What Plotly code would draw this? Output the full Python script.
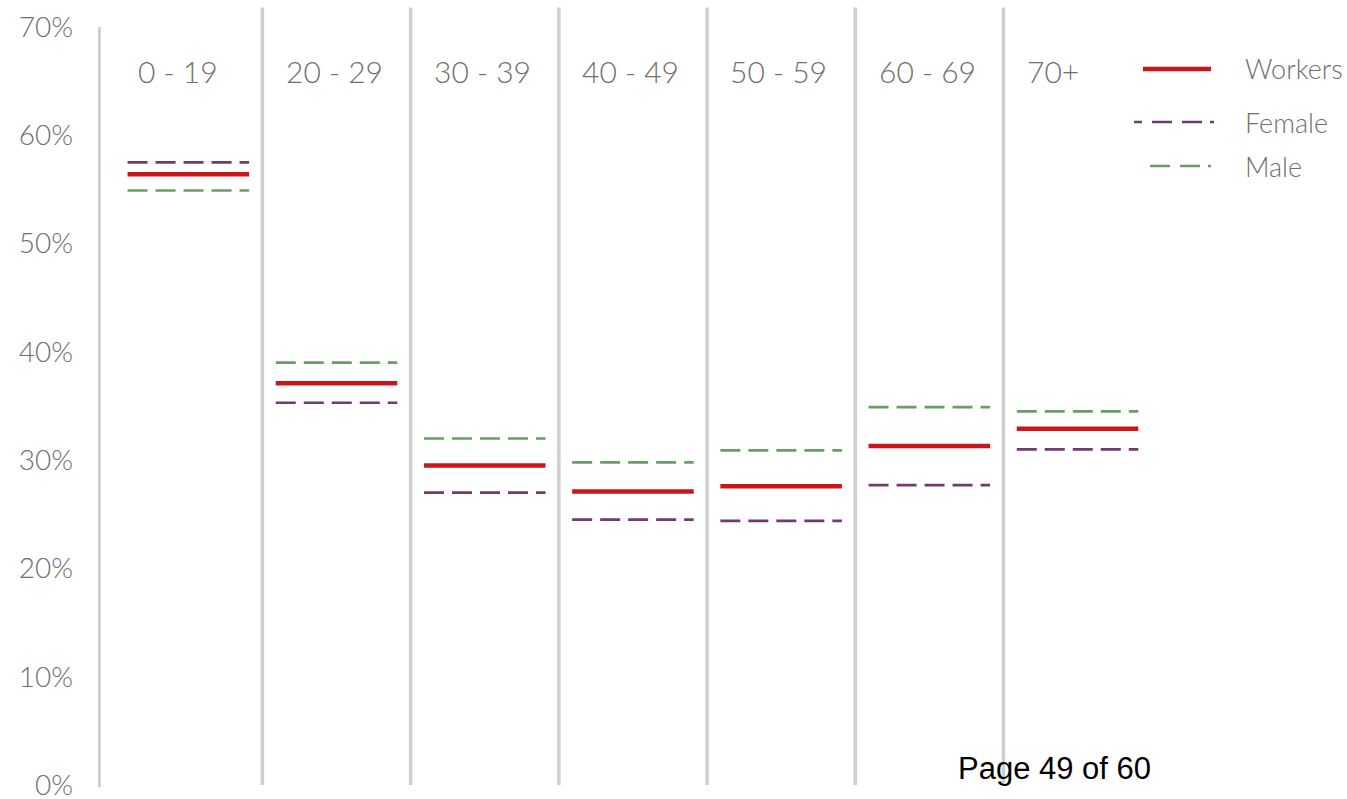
import plotly.graph_objects as go

# Share of each age group, in percent
AGE_GROUPS = ["0 - 19", "20 - 29", "30 - 39", "40 - 49", "50 - 59", "60 - 69", "70+"]
WORKERS = [56.4, 37.1, 29.5, 27.1, 27.6, 31.3, 32.9]
FEMALE = [57.5, 35.3, 27.0, 24.5, 24.4, 27.7, 31.0]
MALE = [54.9, 39.0, 32.0, 29.8, 30.9, 34.9, 34.5]
Y_TICKS = [0, 10, 20, 30, 40, 50, 60, 70]

TEXT_GREY = "#6f6f6f"
RED = "#cc1518"
PURPLE = "#6e3c70"
GREEN = "#6b9e66"
RULE = "#cfcfcf"
FONT = "Lato, 'Open Sans', sans-serif"

HALF = 0.41  # half width of each horizontal level marker, in category units


def segments(values):
    xs, ys = [], []
    for i, v in enumerate(values):
        xs += [i - HALF, i + HALF, None]
        ys += [v, v, None]
    return xs, ys


fig = go.Figure()

for name, vals, color, width, dash in [
    ("Male", MALE, GREEN, 2.7, "20px,8px"),
    ("Female", FEMALE, PURPLE, 2.7, "20px,8px"),
    ("Workers", WORKERS, RED, 4.5, "solid"),
]:
    xs, ys = segments(vals)
    fig.add_trace(go.Scatter(
        x=xs, y=ys, mode="lines", name=name, showlegend=False,
        line=dict(color=color, width=width, dash=dash),
        hoverinfo="skip",
    ))

shapes = []
# vertical rules between age groups
for i in range(len(AGE_GROUPS) - 1):
    shapes.append(dict(type="line", xref="x", yref="y", x0=i + 0.5, x1=i + 0.5,
                       y0=0.0, y1=71.8, line=dict(color=RULE, width=3.5), layer="below"))
# value axis rule
shapes.append(dict(type="line", xref="x", yref="y", x0=-0.6, x1=-0.6,
                   y0=-0.2, y1=70, line=dict(color="#c8c8c8", width=2.5), layer="below"))

annotations = []
for i, label in enumerate(AGE_GROUPS):
    annotations.append(dict(x=i - HALF, y=65.9, xref="x", yref="y", text=label,
                            showarrow=False, xanchor="left", yanchor="middle", xshift=8,
                            font=dict(family=FONT, size=30, color=TEXT_GREY, weight=300)))

# hand-built key at the top right
L, W, H = 92, 1193, 799


def px(x):
    return (x - L) / W


def py(y):
    return 1 - y / H


key = [
    ("Workers", RED, 4.5, "solid", 1143, 1211, 69),
    ("Female", PURPLE, 2.7, "8px,10px,20px,10px,20px,8px,4px,200px", 1134, 1214, 122),
    ("Male", GREEN, 2.7, "20px,10px,20px,8px,3px,200px", 1150, 1211, 166),
]
for name, color, width, dash, x0, x1, y in key:
    shapes.append(dict(type="line", xref="paper", yref="paper", x0=px(x0), x1=px(x1),
                       y0=py(y), y1=py(y), line=dict(color=color, width=width, dash=dash)))
    annotations.append(dict(x=px(1243), y=py(y), xref="paper", yref="paper", text=name,
                            showarrow=False, xanchor="left", yanchor="middle",
                            font=dict(family=FONT, size=27, color=TEXT_GREY, weight=300)))

annotations.append(dict(x=px(956), y=py(768), xref="paper", yref="paper", text="Page 49 of 60",
                        showarrow=False, xanchor="left", yanchor="middle",
                        font=dict(family="'Liberation Sans', Arial, sans-serif", size=31, color="#000000")))

fig.update_layout(
    width=1347, height=799,
    margin=dict(l=L, r=1347 - L - W, t=0, b=0),
    paper_bgcolor="white", plot_bgcolor="white",
    shapes=shapes, annotations=annotations,
    xaxis=dict(range=[-0.65, 7.4], showgrid=False, zeroline=False, showline=False,
               showticklabels=False, fixedrange=True),
    yaxis=dict(range=[-1.29, 72.49], tickvals=Y_TICKS, ticktext=[f"{v}%" for v in Y_TICKS],
               showgrid=False, zeroline=False, showline=False, ticks="",
               ticklabelstandoff=18, ticklabeloverflow="allow", automargin=False,
               tickfont=dict(family=FONT, size=28, color=TEXT_GREY, weight=300)),
    showlegend=False,
)

fig.write_html("out.html")
